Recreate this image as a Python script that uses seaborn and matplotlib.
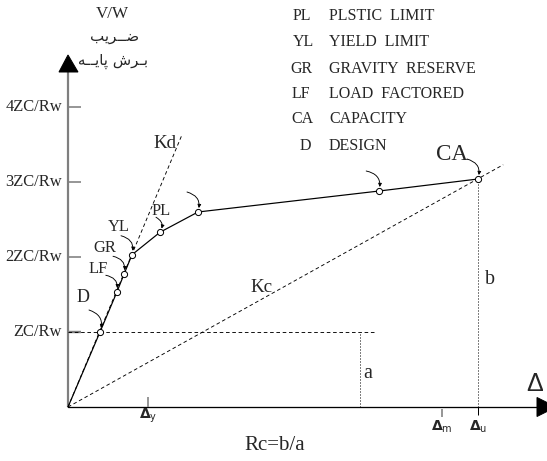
import matplotlib
matplotlib.use("Agg")
import matplotlib.pyplot as plt
import seaborn as sns
import numpy as np

# ---------------- data ----------------
curve_x = [0.0, 0.40, 0.61, 0.70, 0.80, 1.15, 1.625, 3.89, 5.125]
curve_y = [0.0, 1.00, 1.53, 1.77, 2.03, 2.33, 2.60, 2.88, 3.04]
point_labels = ["", "D", "LF", "GR", "YL", "PL", "", "", "CA"]

kd_x = [0.0, 1.425]
kd_y = [0.0, 3.63]
kc_x = [0.0, 5.44]
kc_y = [0.0, 3.23]

ytick_vals = [1, 2, 3, 4]
ytick_labels = ["ZC/Rw", "2ZC/Rw", "3ZC/Rw", "4ZC/Rw"]
xtick_vals = [1.0, 4.675, 5.125]
xtick_labels = [r"$\mathbf{\Delta}_{\mathrm{y}}$", r"$\mathbf{\Delta}_{\mathrm{m}}$", r"$\mathbf{\Delta}_{\mathrm{u}}$"]

design_level = 1.0
design_dash_end = 3.84
a_x = 3.65

legend_abbr = ["PL", "YL", "GR", "LF", "CA", "D"]
legend_text = ["PLSTIC  LIMIT", "YIELD  LIMIT", "GRAVITY  RESERVE", "LOAD  FACTORED", "CAPACITY", "DESIGN"]

# ---------------- figure ----------------
sns.set_theme(style="white")
plt.rcParams["font.family"] = ["Liberation Serif", "DejaVu Sans"]
plt.rcParams["mathtext.fontset"] = "dejavusans"

DPI = 72
fig = plt.figure(figsize=(547 / DPI, 461 / DPI), dpi=DPI, facecolor="white")
ax = fig.add_axes([0, 0, 1, 1])
ax.set_xlim(-68 / 80, (547 - 68) / 80)
ax.set_ylim((407 - 461) / 75, 407 / 75)
ax.axis("off")

PX_X = 1 / 80.0   # one pixel in x data units
PX_Y = 1 / 75.0   # one pixel in y data units

# axes
ax.plot([0, 0], [0, (407 - 72) * PX_Y], color="#7f7f7f", lw=2.2, solid_capstyle="butt", zorder=2)
ax.fill([-9 * PX_X, 0, 10 * PX_X], [(407 - 72) * PX_Y, (407 - 55) * PX_Y, (407 - 72) * PX_Y],
        color="black", zorder=3)
ax.plot([0, (537 - 68) * PX_X], [0, 0], color="black", lw=1.3, zorder=2)
ax.fill([(537 - 68) * PX_X, (556 - 68) * PX_X, (537 - 68) * PX_X], [9.5 * PX_Y, 0, -9.5 * PX_Y],
        color="black", zorder=3)

# y ticks
for v, lab in zip(ytick_vals, ytick_labels):
    ax.plot([0, 13 * PX_X], [v, v], color="#7f7f7f", lw=2.4 if v == 1 else 1.6, solid_capstyle="butt")
    ax.text(-6 * PX_X, v, lab, ha="right", va="center", fontsize=16.5)

# x ticks
ax.plot([xtick_vals[0]] * 2, [0, 10 * PX_Y], color="#7f7f7f", lw=1.6, solid_capstyle="butt")
ax.plot([xtick_vals[1]] * 2, [-2 * PX_Y, -10 * PX_Y], color="#7f7f7f", lw=1.6, solid_capstyle="butt")
ax.plot([xtick_vals[2]] * 2, [0, -8 * PX_Y], color="black", lw=1.0, solid_capstyle="butt")
for v, lab, dy in zip(xtick_vals, xtick_labels, [-9, -20, -20]):
    ax.text(v, dy * PX_Y, lab, ha="center", va="center", fontsize=14)

# reference dashed lines
sns.lineplot(x=kd_x, y=kd_y, ax=ax, color="black", lw=0.9, linestyle=(0, (4, 3)), zorder=2)
sns.lineplot(x=kc_x, y=kc_y, ax=ax, color="black", lw=0.9, linestyle=(0, (4, 3)), zorder=2)
ax.plot([0, design_dash_end], [design_level, design_level], color="black", lw=0.9, linestyle=(0, (4, 3)))
ax.plot([a_x, a_x], [0, design_level], color="black", lw=1.0, linestyle=(0, (1, 2)))
ax.plot([curve_x[-1], curve_x[-1]], [0, curve_y[-1]], color="black", lw=1.0, linestyle=(0, (1, 2)))

# capacity curve
sns.lineplot(x=curve_x, y=curve_y, ax=ax, color="black", lw=1.2, sort=False, estimator=None, zorder=4)
ax.scatter(curve_x[1:], curve_y[1:], s=38, facecolors="white", edgecolors="black", linewidths=1.0, zorder=5)

# point labels and curved arrows
label_off = {"D": (-17, 35), "LF": (-19, 23), "GR": (-19, 26), "YL": (-13, 28), "PL": (1, 21), "CA": (-26, 24)}
label_size = {"D": 18, "LF": 16.5, "GR": 16.5, "YL": 16.5, "PL": 16.5, "CA": 23}
arrow_off = [None, (-11, 22), (-11, 17), (-11, 18), (-11, 19), (-4, 15), (-11, 20), (-13, 20), (-11, 20)]
for x, y, lab, aoff in zip(curve_x, curve_y, point_labels, arrow_off):
    if aoff is not None:
        ax.annotate("", xy=(x, y), xytext=aoff, textcoords="offset points",
                    arrowprops=dict(arrowstyle="-|>", connectionstyle="arc3,rad=-0.5",
                                    color="black", lw=0.9, shrinkA=0, shrinkB=4, mutation_scale=7),
                    zorder=6)
    if lab:
        ax.annotate(lab, xy=(x, y), xytext=label_off[lab], textcoords="offset points",
                    ha="center", va="center", fontsize=label_size[lab])

# line labels
ax.text((165 - 68) * PX_X, (407 - 143) * PX_Y, "Kd", ha="center", va="center", fontsize=19)
ax.text((262 - 68) * PX_X, (407 - 288) * PX_Y, "Kc", ha="center", va="center", fontsize=19)
ax.text((368 - 68) * PX_X, (407 - 373) * PX_Y, "a", ha="center", va="center", fontsize=20)
ax.text((490 - 68) * PX_X, (407 - 280) * PX_Y, "b", ha="center", va="center", fontsize=20)
ax.text((275 - 68) * PX_X, (407 - 446) * PX_Y, "Rc=b/a", ha="center", va="center", fontsize=21)
ax.text((535 - 68) * PX_X, (407 - 384) * PX_Y, "Δ", ha="center", va="center", fontsize=25,
        family="Liberation Sans")

# y axis title
ax.text((112 - 68) * PX_X, (407 - 14) * PX_Y, "V/W", ha="center", va="center", fontsize=17)
ax.text((115 - 68) * PX_X, (407 - 37) * PX_Y, "\uFE90\uFBFE\uFEAE\u0640\u0640\uFEBF",
        ha="center", va="center", fontsize=15, family="DejaVu Sans")
ax.text((113 - 68) * PX_X, (407 - 61) * PX_Y,
        "\uFEEA\u0640\u0640\uFBFE\uFE8E\uFB58 \uFEB5\uFEAE\u0640\uFE91",
        ha="center", va="center", fontsize=15, family="DejaVu Sans")

# legend-like text list
leg_y = [16, 42, 69, 94, 119, 146]
abbr_x = [293, 293, 290, 292, 291, 300]
for yy, xa, ab, tx in zip(leg_y, abbr_x, legend_abbr, legend_text):
    ax.text((xa - 68) * PX_X, (407 - yy) * PX_Y, ab, ha="left", va="center", fontsize=16)
    ax.text((329 - 68) * PX_X, (407 - yy) * PX_Y, tx, ha="left", va="center", fontsize=16)

fig.savefig("out.png", dpi=DPI, facecolor="white")
